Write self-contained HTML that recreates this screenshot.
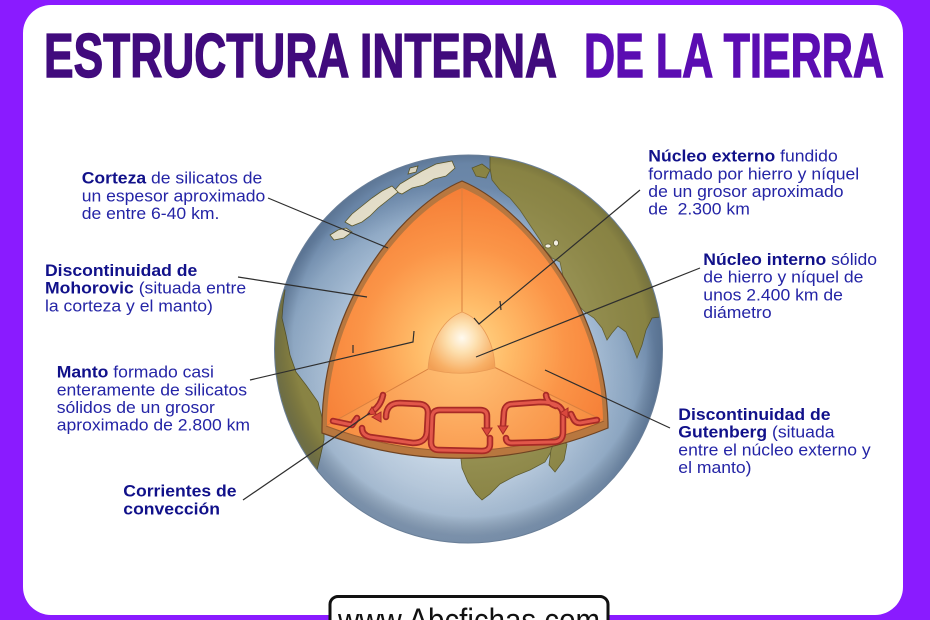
<!DOCTYPE html>
<html><head><meta charset="utf-8"><style>
html,body{margin:0;padding:0;background:#8a1bff;}
svg{display:block;}
</style></head><body>
<svg width="930" height="620" viewBox="0 0 930 620" xmlns="http://www.w3.org/2000/svg">
<defs>
  <radialGradient id="ocean" gradientUnits="userSpaceOnUse" cx="455" cy="390" r="205">
    <stop offset="0" stop-color="#dbe6ef"/>
    <stop offset="0.5" stop-color="#b9cce0"/>
    <stop offset="0.85" stop-color="#90abc8"/>
    <stop offset="1" stop-color="#6d8aad"/>
  </radialGradient>
  <radialGradient id="shade" gradientUnits="userSpaceOnUse" cx="470" cy="340" r="196">
    <stop offset="0" stop-color="#ffffff" stop-opacity="0.22"/>
    <stop offset="0.6" stop-color="#ffffff" stop-opacity="0.06"/>
    <stop offset="0.9" stop-color="#000000" stop-opacity="0.04"/>
    <stop offset="1" stop-color="#1a2a44" stop-opacity="0.28"/>
  </radialGradient>
  <radialGradient id="face" gradientUnits="userSpaceOnUse" cx="463" cy="348" r="185">
    <stop offset="0" stop-color="#ffdc8e"/>
    <stop offset="0.25" stop-color="#ffbb68"/>
    <stop offset="0.55" stop-color="#fb9548"/>
    <stop offset="1" stop-color="#f3742f"/>
  </radialGradient>
  <radialGradient id="bface" gradientUnits="userSpaceOnUse" cx="462" cy="360" r="165">
    <stop offset="0" stop-color="#ffc478"/>
    <stop offset="0.5" stop-color="#fba257"/>
    <stop offset="1" stop-color="#f58538"/>
  </radialGradient>
  <radialGradient id="core" gradientUnits="userSpaceOnUse" cx="462" cy="338" r="42">
    <stop offset="0" stop-color="#fffaf0"/>
    <stop offset="0.35" stop-color="#fde0b0"/>
    <stop offset="0.8" stop-color="#f8b066"/>
    <stop offset="1" stop-color="#f2a055"/>
  </radialGradient>
  <clipPath id="gclip"><circle cx="468.5" cy="349" r="194"/></clipPath>
  <g id="cv" fill="none" stroke-linecap="round" stroke-linejoin="round">
    <path d="M333,421 L352,425 L357,418"/>
    <path d="M383,395 Q381,405 373,411"/>
    <path d="M386,417 Q386,403 400,403 L420,404 Q428,405 428,413 L427,432 Q426,443 413,443 L370,437 Q362,435 362,428"/>
    <path d="M487,427 L487,416 Q487,410 480,410 L440,410 Q432,410 432,418 L431,442 Q431,450 439,450 L482,451 Q490,451 490,444 L490,438"/>
    <path d="M503,426 L504,412 Q505,404 513,404 L540,402 Q562,402 563,414 L563,432 Q563,442 553,442 L512,443 Q506,443 506,438"/>
    <path d="M597,420 L580,423 Q575,423 573,418 L571,414"/>
    <path d="M546,395 Q547,403 556,406"/>
  </g>
</defs>

<rect width="930" height="620" fill="#8a1bff"/>
<rect x="23" y="5" width="880" height="610" rx="28" fill="#ffffff"/>

<!-- Title -->
<text x="44" y="77" font-family="Liberation Sans, Arial, sans-serif" font-weight="bold" font-size="62" fill="#410b7d" stroke="#410b7d" stroke-width="1.4" textLength="513" lengthAdjust="spacingAndGlyphs">ESTRUCTURA INTERNA</text>
<text x="584" y="77" font-family="Liberation Sans, Arial, sans-serif" font-weight="bold" font-size="62" fill="#5b0db2" stroke="#5b0db2" stroke-width="1.4" textLength="300" lengthAdjust="spacingAndGlyphs">DE LA TIERRA</text>

<!-- Globe -->
<circle cx="468.5" cy="349" r="194" fill="url(#ocean)"/>
<g clip-path="url(#gclip)" stroke="#5e5a2c" stroke-width="0.8">
  <!-- Eurasia -->
  <path fill="#8e8846" d="M490,150 L520,150 L600,180 L650,240 L675,300 L668,316 L652,318 L646,330 L642,345 L637,358 L632,345 L626,332 L618,326 L612,333 L607,340 L602,328 L594,318 L585,312 L578,305 L566,290 L560,262 L552,258 L545,250 L540,240 L530,225 L520,210 L510,198 L500,190 L492,180 L490,168 Z"/>
  <path fill="#8e8846" d="M472,168 L482,164 L490,170 L486,178 L476,176 Z"/>
  <!-- South America -->
  <path fill="#8e8846" d="M255,280 L272,285 L285,290 L283,305 L282,318 L286,335 L290,355 L296,372 L306,385 L318,402 L324,425 L324,440 L320,458 L315,478 L300,490 L250,490 Z"/>
  <!-- Africa -->
  <path fill="#8e8846" d="M455,448 L460,450 L462,468 L468,482 L476,494 L482,500 L490,494 L500,484 L515,476 L530,470 L545,462 L552,450 L552,440 L455,440 Z"/>
  <path fill="#8e8846" d="M556,438 L567,444 L564,460 L555,472 L549,465 L551,450 Z"/>
  <!-- Greenland (ice) -->
  <path fill="#ebe5cf" d="M452,161 L455,168 L446,176 L434,179 L424,185 L412,188 L402,194 L394,191 L400,184 L410,178 L422,171 L436,164 Z"/>
  <!-- Canada islands (ice) -->
  <path fill="#ebe5cf" d="M392,186 L398,192 L388,200 L378,208 L370,216 L362,222 L352,226 L345,222 L352,214 L362,206 L372,198 L382,191 Z"/>
  <path fill="#ebe5cf" d="M346,228 L352,232 L344,238 L334,240 L330,235 L338,230 Z"/>
  <path fill="#ebe5cf" d="M410,168 L418,166 L416,172 L408,174 Z"/>
  <!-- Mediterranean islands -->
  <ellipse cx="548" cy="246" rx="3" ry="2" fill="#f4f0e4"/>
  <ellipse cx="556" cy="243" rx="2.5" ry="3" fill="#f4f0e4"/>
  <circle cx="468.5" cy="349" r="194" fill="url(#shade)" stroke="none"/>
</g>
<circle cx="468.5" cy="349" r="194" fill="none" stroke="#6a7f98" stroke-width="1"/>

<!-- Wedge: crust -->
<path d="M462,181 C520,205 605,300 608,423 L608,428 Q465,486 322,433 L322,428 C322,300 405,205 462,181 Z" fill="#b8773f" stroke="#6e4322" stroke-width="1.2"/>
<path d="M462,188 L462,340 L428,369 L327,425 C327,302 410,209 462,188 Z" fill="url(#face)"/>
<path d="M462,188 C516,209 601,302 603,420 L495,368 L462,340 Z" fill="url(#face)"/>
<path d="M326,426 L428,369 L495,368 L604,421 Q465,478 326,426 Z" fill="url(#bface)"/>
<g stroke="#d9803f" stroke-width="1" fill="none">
  <path d="M462,188 L462,315"/>
  <path d="M326,426 L430,368"/>
  <path d="M604,421 L494,367"/>
</g>
<path d="M326,426 Q465,478 604,421" fill="none" stroke="#9c5e30" stroke-width="1"/>
<path d="M428,369 C430,340 445,318 462,312 C480,318 494,340 495,368 Q462,378 428,369 Z" fill="url(#core)" stroke="#e89a55" stroke-width="0.8"/>

<!-- Convection currents -->
<use href="#cv" stroke="#a82a26" stroke-width="6.5"/>
<use href="#cv" stroke="#e2574a" stroke-width="3"/>
<g fill="#d9483d" stroke="#a82a26" stroke-width="1">
  <polygon points="367,415 372,407 376,414"/>
  <polygon points="372,417 381,412 381,422"/>
  <polygon points="482,428 492,428 487,436"/>
  <polygon points="498,426 508,426 503,434"/>
  <polygon points="560,413 568,408 568,418"/>
</g>

<!-- Connector lines -->
<g stroke="#2e2e2e" stroke-width="1.2" fill="none">
  <path d="M268,198 L388,248"/>
  <path d="M238,277 L367,297"/>
  <path d="M250,380 L413,342 L414,331"/>
  <path d="M353,345 L353,353"/>
  <path d="M243,500 L370,413"/>
  <path d="M640,190 L479,324 L474,318"/>
  <path d="M500,301 L501,310"/>
  <path d="M700,268 L476,357"/>
  <path d="M670,428 L545,370"/>
</g>

<!-- Labels -->
<g font-family="Liberation Sans, Arial, sans-serif" font-size="16.2" fill="#2424a6">
  <g transform="translate(81.7,0) scale(1.085,1)">
    <text x="0" y="183.5"><tspan font-weight="bold" fill="#11118a">Corteza</tspan> de silicatos de</text>
    <text x="0" y="201.3">un espesor aproximado</text>
    <text x="0" y="219">de entre 6-40 km.</text>
  </g>
  <g transform="translate(45,0) scale(1.085,1)">
    <text x="0" y="276" font-weight="bold" fill="#11118a">Discontinuidad de</text>
    <text x="0" y="293.7"><tspan font-weight="bold" fill="#11118a">Mohorovic</tspan> (situada entre</text>
    <text x="0" y="311.3">la corteza y el manto)</text>
  </g>
  <g transform="translate(56.7,0) scale(1.085,1)">
    <text x="0" y="377.7"><tspan font-weight="bold" fill="#11118a">Manto</tspan> formado casi</text>
    <text x="0" y="395.4">enteramente de silicatos</text>
    <text x="0" y="413">sólidos de un grosor</text>
    <text x="0" y="430.7">aproximado de 2.800 km</text>
  </g>
  <g transform="translate(123.3,0) scale(1.085,1)" font-weight="bold" fill="#11118a">
    <text x="0" y="496.7">Corrientes de</text>
    <text x="0" y="514.3">convección</text>
  </g>
  <g transform="translate(648.3,0) scale(1.085,1)">
    <text x="0" y="161.7"><tspan font-weight="bold" fill="#11118a">Núcleo externo</tspan> fundido</text>
    <text x="0" y="179.4">formado por hierro y níquel</text>
    <text x="0" y="197">de un grosor aproximado</text>
    <text x="0" y="214.7" xml:space="preserve">de  2.300 km</text>
  </g>
  <g transform="translate(703.3,0) scale(1.085,1)">
    <text x="0" y="265"><tspan font-weight="bold" fill="#11118a">Núcleo interno</tspan> sólido</text>
    <text x="0" y="282.7">de hierro y níquel de</text>
    <text x="0" y="300.4">unos 2.400 km de</text>
    <text x="0" y="318">diámetro</text>
  </g>
  <g transform="translate(678.3,0) scale(1.085,1)">
    <text x="0" y="420" font-weight="bold" fill="#11118a">Discontinuidad de</text>
    <text x="0" y="437.7"><tspan font-weight="bold" fill="#11118a">Gutenberg</tspan> (situada</text>
    <text x="0" y="455.4">entre el núcleo externo y</text>
    <text x="0" y="473">el manto)</text>
  </g>
</g>

<!-- URL box -->
<rect x="330" y="596.5" width="278" height="40" rx="8" fill="#ffffff" stroke="#111111" stroke-width="3"/>
<text x="338" y="631" font-family="Liberation Sans, Arial, sans-serif" font-size="32" fill="#111111" textLength="262" lengthAdjust="spacingAndGlyphs">www.Abcfichas.com</text>
</svg>
</body></html>
